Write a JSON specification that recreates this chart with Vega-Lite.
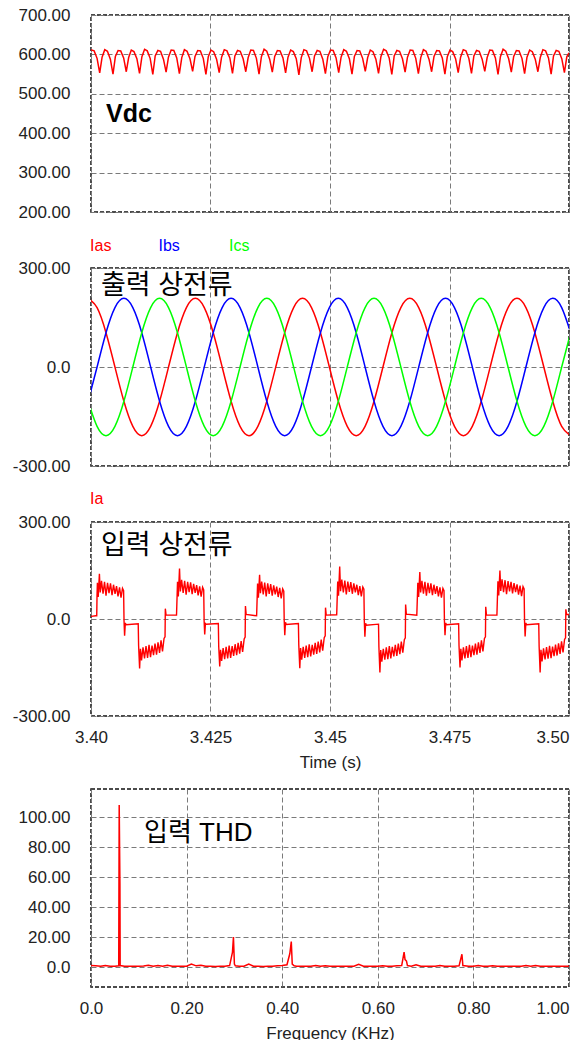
{
  "$schema": "https://vega.github.io/schema/vega-lite/v6.json",
  "padding": {"left": 11, "top": 5, "right": 0, "bottom": 0},
  "spacing": 17,
  "config": {
    "font": "Liberation Sans",
    "view": {"stroke": "#111111", "strokeDash": [4, 2], "strokeWidth": 1.5},
    "axis": {"labelFont": "Liberation Sans", "labelFontSize": 17, "labelColor": "#222222", "labelOverlap": false, "titleFont": "Liberation Sans", "titleFontSize": 17, "titleFontWeight": "normal", "titleColor": "#222222", "grid": true, "gridColor": "#7a7a7a", "gridDash": [5, 3], "gridWidth": 1, "gridOpacity": 1, "ticks": false, "tickSize": 0, "domain": false, "labelFlush": false},
    "axisY": {"labelPadding": 21},
    "axisX": {"labelPadding": 13, "titlePadding": 9}
  },
  "datasets": {
    "vdc": [
      {"t":3.4,"v":611},
      {"t":3.4001,"v":611},{"t":3.40066,"v":609},{"t":3.40127,"v":590},{"t":3.40182,"v":553},{"t":3.40232,"v":593},
      {"t":3.40288,"v":612},{"t":3.40344,"v":608},{"t":3.40405,"v":588},{"t":3.4046,"v":550},{"t":3.4051,"v":595},
      {"t":3.40566,"v":610},{"t":3.40622,"v":609},{"t":3.40683,"v":591},{"t":3.40738,"v":556},{"t":3.40788,"v":592},
      {"t":3.40843,"v":611},{"t":3.40899,"v":607},{"t":3.4096,"v":589},{"t":3.41015,"v":552},{"t":3.41065,"v":594},
      {"t":3.41121,"v":613},{"t":3.41177,"v":609},{"t":3.41238,"v":590},{"t":3.41293,"v":549},{"t":3.41343,"v":596},
      {"t":3.41399,"v":610},{"t":3.41455,"v":608},{"t":3.41516,"v":588},{"t":3.41571,"v":555},{"t":3.41621,"v":593},
      {"t":3.41677,"v":611},{"t":3.41733,"v":610},{"t":3.41794,"v":591},{"t":3.41849,"v":551},{"t":3.41899,"v":592},
      {"t":3.41954,"v":612},{"t":3.4201,"v":608},{"t":3.42071,"v":589},{"t":3.42126,"v":557},{"t":3.42176,"v":595},
      {"t":3.42232,"v":610},{"t":3.42288,"v":609},{"t":3.42349,"v":590},{"t":3.42404,"v":549},{"t":3.42454,"v":594},
      {"t":3.4251,"v":611},{"t":3.42566,"v":607},{"t":3.42627,"v":588},{"t":3.42682,"v":554},{"t":3.42732,"v":593},
      {"t":3.42788,"v":612},{"t":3.42844,"v":609},{"t":3.42905,"v":591},{"t":3.4296,"v":552},{"t":3.4301,"v":596},
      {"t":3.43066,"v":610},{"t":3.43122,"v":608},{"t":3.43183,"v":589},{"t":3.43238,"v":556},{"t":3.43288,"v":592},
      {"t":3.43343,"v":611},{"t":3.43399,"v":610},{"t":3.4346,"v":590},{"t":3.43515,"v":550},{"t":3.43565,"v":594},
      {"t":3.43621,"v":613},{"t":3.43677,"v":608},{"t":3.43738,"v":588},{"t":3.43793,"v":555},{"t":3.43843,"v":595},
      {"t":3.43899,"v":610},{"t":3.43955,"v":609},{"t":3.44016,"v":591},{"t":3.44071,"v":553},{"t":3.44121,"v":593},
      {"t":3.44177,"v":611},{"t":3.44233,"v":607},{"t":3.44294,"v":589},{"t":3.44349,"v":548},{"t":3.44399,"v":592},
      {"t":3.44454,"v":612},{"t":3.4451,"v":609},{"t":3.44571,"v":590},{"t":3.44626,"v":556},{"t":3.44676,"v":596},
      {"t":3.44732,"v":610},{"t":3.44788,"v":608},{"t":3.44849,"v":588},{"t":3.44904,"v":551},{"t":3.44954,"v":594},
      {"t":3.4501,"v":611},{"t":3.45066,"v":610},{"t":3.45127,"v":591},{"t":3.45182,"v":554},{"t":3.45232,"v":593},
      {"t":3.45288,"v":612},{"t":3.45344,"v":608},{"t":3.45405,"v":589},{"t":3.4546,"v":550},{"t":3.4551,"v":595},
      {"t":3.45566,"v":610},{"t":3.45622,"v":609},{"t":3.45683,"v":590},{"t":3.45738,"v":557},{"t":3.45788,"v":592},
      {"t":3.45843,"v":611},{"t":3.45899,"v":607},{"t":3.4596,"v":588},{"t":3.46015,"v":552},{"t":3.46065,"v":594},
      {"t":3.46121,"v":613},{"t":3.46177,"v":609},{"t":3.46238,"v":591},{"t":3.46293,"v":549},{"t":3.46343,"v":596},
      {"t":3.46399,"v":610},{"t":3.46455,"v":608},{"t":3.46516,"v":589},{"t":3.46571,"v":555},{"t":3.46621,"v":593},
      {"t":3.46677,"v":611},{"t":3.46733,"v":610},{"t":3.46794,"v":590},{"t":3.46849,"v":551},{"t":3.46899,"v":592},
      {"t":3.46954,"v":612},{"t":3.4701,"v":608},{"t":3.47071,"v":588},{"t":3.47126,"v":556},{"t":3.47176,"v":595},
      {"t":3.47232,"v":610},{"t":3.47288,"v":609},{"t":3.47349,"v":591},{"t":3.47404,"v":550},{"t":3.47454,"v":594},
      {"t":3.4751,"v":611},{"t":3.47566,"v":607},{"t":3.47627,"v":589},{"t":3.47682,"v":554},{"t":3.47732,"v":593},
      {"t":3.47788,"v":612},{"t":3.47844,"v":609},{"t":3.47905,"v":590},{"t":3.4796,"v":552},{"t":3.4801,"v":596},
      {"t":3.48066,"v":610},{"t":3.48122,"v":608},{"t":3.48183,"v":588},{"t":3.48238,"v":557},{"t":3.48288,"v":592},
      {"t":3.48343,"v":611},{"t":3.48399,"v":610},{"t":3.4846,"v":591},{"t":3.48515,"v":549},{"t":3.48565,"v":594},
      {"t":3.48621,"v":613},{"t":3.48677,"v":608},{"t":3.48738,"v":589},{"t":3.48793,"v":555},{"t":3.48843,"v":595},
      {"t":3.48899,"v":610},{"t":3.48955,"v":609},{"t":3.49016,"v":590},{"t":3.49071,"v":551},{"t":3.49121,"v":593},
      {"t":3.49177,"v":611},{"t":3.49233,"v":607},{"t":3.49294,"v":588},{"t":3.49349,"v":556},{"t":3.49399,"v":592},
      {"t":3.49454,"v":612},{"t":3.4951,"v":609},{"t":3.49571,"v":591},{"t":3.49626,"v":550},{"t":3.49676,"v":596},
      {"t":3.49732,"v":610},{"t":3.49788,"v":608},{"t":3.49849,"v":589},{"t":3.49904,"v":554},{"t":3.49954,"v":594},
      {"t":3.5,"v":604}
    ],
    "iout": [
      {"t":3.3994,"Ias":208,"Ibs":-104,"Ics":-104},
      {"t":3.40127,"Ias":180,"Ibs":0,"Ics":-180},
      {"t":3.40314,"Ias":104,"Ibs":104,"Ics":-208},
      {"t":3.40501,"Ias":0,"Ibs":180,"Ics":-180},
      {"t":3.40688,"Ias":-104,"Ibs":208,"Ics":-104},
      {"t":3.40875,"Ias":-180,"Ibs":180,"Ics":0},
      {"t":3.41062,"Ias":-208,"Ibs":104,"Ics":104},
      {"t":3.41248,"Ias":-180,"Ibs":0,"Ics":180},
      {"t":3.41435,"Ias":-104,"Ibs":-104,"Ics":208},
      {"t":3.41622,"Ias":0,"Ibs":-180,"Ics":180},
      {"t":3.41809,"Ias":104,"Ibs":-208,"Ics":104},
      {"t":3.41996,"Ias":180,"Ibs":-180,"Ics":0},
      {"t":3.42183,"Ias":208,"Ibs":-104,"Ics":-104},
      {"t":3.4237,"Ias":180,"Ibs":0,"Ics":-180},
      {"t":3.42557,"Ias":104,"Ibs":104,"Ics":-208},
      {"t":3.42744,"Ias":0,"Ibs":180,"Ics":-180},
      {"t":3.42931,"Ias":-104,"Ibs":208,"Ics":-104},
      {"t":3.43118,"Ias":-180,"Ibs":180,"Ics":0},
      {"t":3.43305,"Ias":-208,"Ibs":104,"Ics":104},
      {"t":3.43491,"Ias":-180,"Ibs":0,"Ics":180},
      {"t":3.43678,"Ias":-104,"Ibs":-104,"Ics":208},
      {"t":3.43865,"Ias":0,"Ibs":-180,"Ics":180},
      {"t":3.44052,"Ias":104,"Ibs":-208,"Ics":104},
      {"t":3.44239,"Ias":180,"Ibs":-180,"Ics":0},
      {"t":3.44426,"Ias":208,"Ibs":-104,"Ics":-104},
      {"t":3.44613,"Ias":180,"Ibs":0,"Ics":-180},
      {"t":3.448,"Ias":104,"Ibs":104,"Ics":-208},
      {"t":3.44987,"Ias":0,"Ibs":180,"Ics":-180},
      {"t":3.45174,"Ias":-104,"Ibs":208,"Ics":-104},
      {"t":3.45361,"Ias":-180,"Ibs":180,"Ics":0},
      {"t":3.45548,"Ias":-208,"Ibs":104,"Ics":104},
      {"t":3.45734,"Ias":-180,"Ibs":0,"Ics":180},
      {"t":3.45921,"Ias":-104,"Ibs":-104,"Ics":208},
      {"t":3.46108,"Ias":0,"Ibs":-180,"Ics":180},
      {"t":3.46295,"Ias":104,"Ibs":-208,"Ics":104},
      {"t":3.46482,"Ias":180,"Ibs":-180,"Ics":0},
      {"t":3.46669,"Ias":208,"Ibs":-104,"Ics":-104},
      {"t":3.46856,"Ias":180,"Ibs":0,"Ics":-180},
      {"t":3.47043,"Ias":104,"Ibs":104,"Ics":-208},
      {"t":3.4723,"Ias":0,"Ibs":180,"Ics":-180},
      {"t":3.47417,"Ias":-104,"Ibs":208,"Ics":-104},
      {"t":3.47604,"Ias":-180,"Ibs":180,"Ics":0},
      {"t":3.47791,"Ias":-208,"Ibs":104,"Ics":104},
      {"t":3.47977,"Ias":-180,"Ibs":0,"Ics":180},
      {"t":3.48164,"Ias":-104,"Ibs":-104,"Ics":208},
      {"t":3.48351,"Ias":0,"Ibs":-180,"Ics":180},
      {"t":3.48538,"Ias":104,"Ibs":-208,"Ics":104},
      {"t":3.48725,"Ias":180,"Ibs":-180,"Ics":0},
      {"t":3.48912,"Ias":208,"Ibs":-104,"Ics":-104},
      {"t":3.49099,"Ias":180,"Ibs":0,"Ics":-180},
      {"t":3.49286,"Ias":104,"Ibs":104,"Ics":-208},
      {"t":3.49473,"Ias":0,"Ibs":180,"Ics":-180},
      {"t":3.4966,"Ias":-104,"Ibs":208,"Ics":-104},
      {"t":3.49847,"Ias":-180,"Ibs":180,"Ics":0},
      {"t":3.50034,"Ias":-208,"Ibs":104,"Ics":104}
    ],
    "iin": [
      {"t":3.4,"v":8},{"t":3.401,"v":10},{"t":3.4012,"v":10},
      {"t":3.40126,"v":72},{"t":3.40134,"v":112},{"t":3.40151,"v":68},{"t":3.40176,"v":140},{"t":3.40193,"v":82},{"t":3.4022,"v":118},{"t":3.40252,"v":78},{"t":3.40283,"v":115},{"t":3.40314,"v":72},{"t":3.40346,"v":112},{"t":3.40377,"v":80},{"t":3.40408,"v":110},{"t":3.4044,"v":74},{"t":3.40471,"v":106},{"t":3.40503,"v":78},{"t":3.40534,"v":102},{"t":3.40565,"v":70},{"t":3.40597,"v":98},{"t":3.40628,"v":66},{"t":3.40659,"v":95},{"t":3.40682,"v":88},{"t":3.40691,"v":-5},{"t":3.40703,"v":-52},{"t":3.40718,"v":-12},{"t":3.40733,"v":-18},{"t":3.40988,"v":-15},{"t":3.40996,"v":-82},{"t":3.41017,"v":-153},{"t":3.41034,"v":-92},{"t":3.41057,"v":-128},{"t":3.41088,"v":-88},{"t":3.4112,"v":-122},{"t":3.41151,"v":-84},{"t":3.41183,"v":-120},{"t":3.41214,"v":-80},{"t":3.41245,"v":-118},{"t":3.41277,"v":-82},{"t":3.41308,"v":-112},{"t":3.41339,"v":-76},{"t":3.41371,"v":-110},{"t":3.41402,"v":-72},{"t":3.41434,"v":-105},{"t":3.41465,"v":-66},{"t":3.41496,"v":-100},{"t":3.41528,"v":-60},{"t":3.41549,"v":-55},{"t":3.41555,"v":32},{"t":3.4157,"v":12},{"t":3.41789,"v":12},
      {"t":3.41802,"v":75},{"t":3.4181,"v":115},{"t":3.41827,"v":70},{"t":3.41852,"v":156},{"t":3.41869,"v":85},{"t":3.41896,"v":121},{"t":3.41928,"v":81},{"t":3.41959,"v":118},{"t":3.4199,"v":75},{"t":3.42022,"v":115},{"t":3.42053,"v":83},{"t":3.42084,"v":113},{"t":3.42116,"v":77},{"t":3.42147,"v":109},{"t":3.42179,"v":81},{"t":3.4221,"v":105},{"t":3.42241,"v":73},{"t":3.42273,"v":101},{"t":3.42304,"v":69},{"t":3.42335,"v":98},{"t":3.42358,"v":90},{"t":3.42367,"v":-8},{"t":3.42379,"v":-48},{"t":3.42394,"v":-14},{"t":3.42409,"v":-16},{"t":3.42664,"v":-14},{"t":3.42672,"v":-85},{"t":3.42693,"v":-147},{"t":3.4271,"v":-95},{"t":3.42733,"v":-130},{"t":3.42764,"v":-90},{"t":3.42796,"v":-124},{"t":3.42827,"v":-86},{"t":3.42859,"v":-122},{"t":3.4289,"v":-82},{"t":3.42921,"v":-120},{"t":3.42953,"v":-84},{"t":3.42984,"v":-114},{"t":3.43015,"v":-78},{"t":3.43047,"v":-112},{"t":3.43078,"v":-74},{"t":3.4311,"v":-107},{"t":3.43141,"v":-68},{"t":3.43172,"v":-102},{"t":3.43204,"v":-62},{"t":3.43225,"v":-56},{"t":3.43231,"v":40},{"t":3.43246,"v":14},{"t":3.43465,"v":10},
      {"t":3.43477,"v":70},{"t":3.43485,"v":110},{"t":3.43502,"v":66},{"t":3.43527,"v":137},{"t":3.43544,"v":80},{"t":3.43571,"v":116},{"t":3.43603,"v":76},{"t":3.43634,"v":113},{"t":3.43665,"v":70},{"t":3.43697,"v":110},{"t":3.43728,"v":78},{"t":3.43759,"v":108},{"t":3.43791,"v":72},{"t":3.43822,"v":104},{"t":3.43854,"v":76},{"t":3.43885,"v":100},{"t":3.43916,"v":68},{"t":3.43948,"v":96},{"t":3.43979,"v":64},{"t":3.4401,"v":93},{"t":3.44033,"v":86},{"t":3.44042,"v":-4},{"t":3.44054,"v":-50},{"t":3.44069,"v":-10},{"t":3.44084,"v":-17},{"t":3.44339,"v":-14},{"t":3.44347,"v":-80},{"t":3.44368,"v":-152},{"t":3.44385,"v":-90},{"t":3.44408,"v":-126},{"t":3.44439,"v":-86},{"t":3.44471,"v":-120},{"t":3.44502,"v":-82},{"t":3.44534,"v":-118},{"t":3.44565,"v":-78},{"t":3.44596,"v":-116},{"t":3.44628,"v":-80},{"t":3.44659,"v":-110},{"t":3.4469,"v":-74},{"t":3.44722,"v":-108},{"t":3.44753,"v":-70},{"t":3.44785,"v":-103},{"t":3.44816,"v":-64},{"t":3.44847,"v":-98},{"t":3.44879,"v":-58},{"t":3.449,"v":-52},{"t":3.44906,"v":35},{"t":3.44921,"v":12},{"t":3.4514,"v":13},
      {"t":3.45153,"v":76},{"t":3.45161,"v":116},{"t":3.45178,"v":72},{"t":3.45203,"v":162},{"t":3.4522,"v":86},{"t":3.45247,"v":122},{"t":3.45279,"v":82},{"t":3.4531,"v":119},{"t":3.45341,"v":76},{"t":3.45373,"v":116},{"t":3.45404,"v":84},{"t":3.45435,"v":114},{"t":3.45467,"v":78},{"t":3.45498,"v":110},{"t":3.4553,"v":82},{"t":3.45561,"v":106},{"t":3.45592,"v":74},{"t":3.45624,"v":102},{"t":3.45655,"v":70},{"t":3.45686,"v":99},{"t":3.45709,"v":92},{"t":3.45718,"v":-6},{"t":3.4573,"v":-55},{"t":3.45745,"v":-13},{"t":3.4576,"v":-19},{"t":3.46015,"v":-16},{"t":3.46023,"v":-86},{"t":3.46044,"v":-165},{"t":3.46061,"v":-96},{"t":3.46084,"v":-132},{"t":3.46115,"v":-92},{"t":3.46147,"v":-126},{"t":3.46178,"v":-88},{"t":3.4621,"v":-124},{"t":3.46241,"v":-84},{"t":3.46272,"v":-122},{"t":3.46304,"v":-86},{"t":3.46335,"v":-116},{"t":3.46366,"v":-80},{"t":3.46398,"v":-114},{"t":3.46429,"v":-76},{"t":3.46461,"v":-109},{"t":3.46492,"v":-70},{"t":3.46523,"v":-104},{"t":3.46555,"v":-64},{"t":3.46576,"v":-58},{"t":3.46582,"v":45},{"t":3.46597,"v":15},{"t":3.46816,"v":12},
      {"t":3.46829,"v":72},{"t":3.46837,"v":112},{"t":3.46854,"v":68},{"t":3.46879,"v":145},{"t":3.46896,"v":82},{"t":3.46923,"v":118},{"t":3.46955,"v":78},{"t":3.46986,"v":115},{"t":3.47017,"v":72},{"t":3.47049,"v":112},{"t":3.4708,"v":80},{"t":3.47111,"v":110},{"t":3.47143,"v":74},{"t":3.47174,"v":106},{"t":3.47206,"v":78},{"t":3.47237,"v":102},{"t":3.47268,"v":70},{"t":3.473,"v":98},{"t":3.47331,"v":66},{"t":3.47362,"v":95},{"t":3.47385,"v":88},{"t":3.47394,"v":-5},{"t":3.47406,"v":-50},{"t":3.47421,"v":-12},{"t":3.47436,"v":-18},{"t":3.47691,"v":-15},{"t":3.47699,"v":-82},{"t":3.4772,"v":-150},{"t":3.47737,"v":-92},{"t":3.4776,"v":-128},{"t":3.47791,"v":-88},{"t":3.47823,"v":-122},{"t":3.47854,"v":-84},{"t":3.47886,"v":-120},{"t":3.47917,"v":-80},{"t":3.47948,"v":-118},{"t":3.4798,"v":-82},{"t":3.48011,"v":-112},{"t":3.48042,"v":-76},{"t":3.48074,"v":-110},{"t":3.48105,"v":-72},{"t":3.48137,"v":-105},{"t":3.48168,"v":-66},{"t":3.48199,"v":-100},{"t":3.48231,"v":-60},{"t":3.48252,"v":-55},{"t":3.48258,"v":38},{"t":3.48273,"v":12},{"t":3.48492,"v":12},
      {"t":3.48505,"v":77},{"t":3.48513,"v":117},{"t":3.4853,"v":73},{"t":3.48555,"v":150},{"t":3.48572,"v":87},{"t":3.48599,"v":123},{"t":3.48631,"v":83},{"t":3.48662,"v":120},{"t":3.48693,"v":77},{"t":3.48725,"v":117},{"t":3.48756,"v":85},{"t":3.48787,"v":115},{"t":3.48819,"v":79},{"t":3.4885,"v":111},{"t":3.48882,"v":83},{"t":3.48913,"v":107},{"t":3.48944,"v":75},{"t":3.48976,"v":103},{"t":3.49007,"v":71},{"t":3.49038,"v":100},{"t":3.49061,"v":93},{"t":3.4907,"v":-6},{"t":3.49082,"v":-54},{"t":3.49097,"v":-12},{"t":3.49112,"v":-18},{"t":3.49367,"v":-15},{"t":3.49375,"v":-84},{"t":3.49396,"v":-165},{"t":3.49413,"v":-95},{"t":3.49436,"v":-131},{"t":3.49467,"v":-91},{"t":3.49499,"v":-125},{"t":3.4953,"v":-87},{"t":3.49562,"v":-123},{"t":3.49593,"v":-83},{"t":3.49624,"v":-121},{"t":3.49656,"v":-85},{"t":3.49687,"v":-115},{"t":3.49718,"v":-79},{"t":3.4975,"v":-113},{"t":3.49781,"v":-75},{"t":3.49813,"v":-108},{"t":3.49844,"v":-69},{"t":3.49875,"v":-103},{"t":3.49907,"v":-63},{"t":3.49928,"v":-58},{"t":3.49934,"v":30},{"t":3.49949,"v":14},{"t":3.5,"v":14}
    ],
    "thd": [
      {"f":0.0,"v":1.0},{"f":0.01,"v":0.8},{"f":0.02,"v":0.6},{"f":0.03,"v":1.0},{"f":0.04,"v":0.5},{"f":0.05,"v":0.6},{"f":0.058,"v":0.8},{"f":0.059,"v":108},{"f":0.0605,"v":55},{"f":0.061,"v":1.0},
      {"f":0.07,"v":0.6},{"f":0.08,"v":0.5},{"f":0.09,"v":0.6},{"f":0.1,"v":0.5},{"f":0.11,"v":0.7},{"f":0.12,"v":1.2},{"f":0.13,"v":0.6},{"f":0.14,"v":1.0},{"f":0.15,"v":0.5},{"f":0.16,"v":1.2},
      {"f":0.17,"v":0.5},{"f":0.18,"v":0.6},{"f":0.19,"v":0.5},{"f":0.2,"v":0.6},{"f":0.21,"v":2.0},{"f":0.22,"v":0.8},{"f":0.23,"v":1.2},{"f":0.24,"v":0.5},{"f":0.25,"v":0.6},{"f":0.26,"v":0.4},
      {"f":0.27,"v":0.5},{"f":0.28,"v":0.6},{"f":0.29,"v":1.0},{"f":0.296,"v":10},{"f":0.298,"v":20},{"f":0.3,"v":2},{"f":0.302,"v":0.8},{"f":0.31,"v":0.6},{"f":0.32,"v":0.5},{"f":0.33,"v":2.0},
      {"f":0.34,"v":0.6},{"f":0.35,"v":0.5},{"f":0.36,"v":0.4},{"f":0.37,"v":0.6},{"f":0.38,"v":0.5},{"f":0.39,"v":0.8},{"f":0.4,"v":1.0},{"f":0.41,"v":1.5},{"f":0.416,"v":9},{"f":0.419,"v":17},
      {"f":0.421,"v":2},{"f":0.425,"v":0.8},{"f":0.43,"v":0.6},{"f":0.44,"v":0.5},{"f":0.45,"v":0.6},{"f":0.46,"v":0.5},{"f":0.47,"v":1.0},{"f":0.48,"v":0.6},{"f":0.49,"v":0.8},{"f":0.5,"v":0.5},
      {"f":0.51,"v":0.6},{"f":0.52,"v":0.5},{"f":0.53,"v":0.6},{"f":0.54,"v":0.5},{"f":0.55,"v":0.6},{"f":0.56,"v":1.8},{"f":0.57,"v":0.5},{"f":0.58,"v":0.6},{"f":0.59,"v":0.5},{"f":0.6,"v":0.6},
      {"f":0.61,"v":0.8},{"f":0.62,"v":0.5},{"f":0.63,"v":0.6},{"f":0.64,"v":0.8},{"f":0.65,"v":1.0},{"f":0.655,"v":10},{"f":0.657,"v":5},{"f":0.66,"v":4},{"f":0.662,"v":1.0},{"f":0.67,"v":0.6},
      {"f":0.68,"v":1.5},{"f":0.69,"v":0.5},{"f":0.7,"v":0.6},{"f":0.71,"v":0.5},{"f":0.72,"v":0.6},{"f":0.73,"v":1.0},{"f":0.74,"v":0.5},{"f":0.75,"v":0.6},{"f":0.76,"v":0.5},{"f":0.77,"v":0.8},
      {"f":0.776,"v":8.5},{"f":0.778,"v":1.0},{"f":0.79,"v":0.6},{"f":0.8,"v":0.5},{"f":0.81,"v":1.0},{"f":0.82,"v":0.5},{"f":0.83,"v":0.6},{"f":0.84,"v":0.8},{"f":0.85,"v":0.5},{"f":0.86,"v":0.6},
      {"f":0.87,"v":0.5},{"f":0.88,"v":0.6},{"f":0.89,"v":0.5},{"f":0.9,"v":0.6},{"f":0.91,"v":1.0},{"f":0.92,"v":0.5},{"f":0.93,"v":1.0},{"f":0.94,"v":0.5},{"f":0.95,"v":0.6},{"f":0.96,"v":0.5},
      {"f":0.97,"v":0.6},{"f":0.98,"v":0.5},{"f":0.99,"v":0.6},{"f":1.0,"v":0.5}
    ]
  },
  "vconcat": [
    {
      "bounds": "flush",
      "spacing": 56,
      "vconcat": [
        {
          "width": 478, "height": 197,
          "layer": [
            {
              "data": {"name": "vdc"},
              "mark": {"type": "line", "color": "#ff0000", "strokeWidth": 1.5, "clip": true},
              "encoding": {
                "x": {"field": "t", "type": "quantitative", "scale": {"domain": [3.4, 3.5], "nice": false, "zero": false}, "axis": {"values": [3.4, 3.425, 3.45, 3.475, 3.5], "tickCount": 20, "labels": false, "title": null}},
                "y": {"field": "v", "type": "quantitative", "scale": {"domain": [200, 700], "nice": false, "zero": false}, "axis": {"values": [200, 300, 400, 500, 600, 700], "tickCount": 20, "format": ".2f", "title": null}}
              }
            },
            {
              "data": {"values": [{}]},
              "mark": {"type": "text", "text": "Vdc", "font": "Liberation Sans", "fontSize": 25, "fontWeight": "bold", "align": "left", "baseline": "middle", "color": "#000000"},
              "encoding": {"x": {"datum": 3.40314}, "y": {"datum": 449}}
            }
          ]
        },
        {
          "width": 478, "height": 198,
          "layer": [
            {
              "data": {"name": "iout"},
              "transform": [{"fold": ["Ias", "Ibs", "Ics"], "as": ["s", "v"]}],
              "mark": {"type": "line", "strokeWidth": 1.5, "clip": true, "interpolate": "natural"},
              "encoding": {
                "x": {"field": "t", "type": "quantitative", "scale": {"domain": [3.4, 3.5], "nice": false, "zero": false}, "axis": {"values": [3.4, 3.425, 3.45, 3.475, 3.5], "tickCount": 20, "labels": false, "title": null}},
                "y": {"field": "v", "type": "quantitative", "scale": {"domain": [-300, 300], "nice": false, "zero": false}, "axis": {"values": [-300, 0, 300], "tickCount": 20, "labelExpr": "datum.value == 0 ? '0.0' : (datum.value < 0 ? '-' : '') + format(abs(datum.value), '.2f')", "title": null}},
                "color": {"field": "s", "type": "nominal", "scale": {"domain": ["Ias", "Ibs", "Ics"], "range": ["#ff0000", "#0000ff", "#00ff00"]}, "legend": null}
              }
            },
            {
              "data": {"values": [{}]},
              "mark": {"type": "text", "text": "Ias", "font": "Liberation Sans", "fontSize": 16, "align": "left", "baseline": "middle", "color": "#ff0000"},
              "encoding": {"x": {"datum": 3.3998}, "y": {"datum": 367}}
            },
            {
              "data": {"values": [{}]},
              "mark": {"type": "text", "text": "Ibs", "font": "Liberation Sans", "fontSize": 16, "align": "left", "baseline": "middle", "color": "#0000ff"},
              "encoding": {"x": {"datum": 3.41412}, "y": {"datum": 367}}
            },
            {
              "data": {"values": [{}]},
              "mark": {"type": "text", "text": "Ics", "font": "Liberation Sans", "fontSize": 16, "align": "left", "baseline": "middle", "color": "#00ff00"},
              "encoding": {"x": {"datum": 3.42887}, "y": {"datum": 367}}
            },
            {
              "data": {"values": [{}]},
              "mark": {"type": "text", "text": "출력 상전류", "font": "Liberation Sans, Noto Sans CJK KR", "fontSize": 27, "align": "left", "baseline": "middle", "color": "#000000"},
              "encoding": {"x": {"datum": 3.40209}, "y": {"datum": 246}}
            }
          ]
        },
        {
          "width": 478, "height": 194,
          "layer": [
            {
              "data": {"name": "iin"},
              "mark": {"type": "line", "color": "#ff0000", "strokeWidth": 1.4, "clip": true},
              "encoding": {
                "x": {"field": "t", "type": "quantitative", "scale": {"domain": [3.4, 3.5], "nice": false, "zero": false}, "axis": {"values": [3.4, 3.425, 3.45, 3.475, 3.5], "tickCount": 20, "title": "Time (s)", "labelExpr": "(round(datum.value*1000) % 10 == 0) ? format(datum.value, '.2f') : format(datum.value, '.3f')", "labelAlign": {"condition": {"test": "datum.value >= 3.499", "value": "right"}, "value": "center"}}},
                "y": {"field": "v", "type": "quantitative", "scale": {"domain": [-300, 300], "nice": false, "zero": false}, "axis": {"values": [-300, 0, 300], "tickCount": 20, "labelExpr": "datum.value == 0 ? '0.0' : (datum.value < 0 ? '-' : '') + format(abs(datum.value), '.2f')", "title": null}}
              }
            },
            {
              "data": {"values": [{}]},
              "mark": {"type": "text", "text": "Ia", "font": "Liberation Sans", "fontSize": 16, "align": "left", "baseline": "middle", "color": "#ff0000"},
              "encoding": {"x": {"datum": 3.3998}, "y": {"datum": 372}}
            },
            {
              "data": {"values": [{}]},
              "mark": {"type": "text", "text": "입력 상전류", "font": "Liberation Sans, Noto Sans CJK KR", "fontSize": 27, "align": "left", "baseline": "middle", "color": "#000000"},
              "encoding": {"x": {"datum": 3.40209}, "y": {"datum": 227}}
            }
          ]
        }
      ]
    },
    {
      "width": 478, "height": 198,
      "layer": [
        {
          "data": {"name": "thd"},
          "mark": {"type": "line", "color": "#ff0000", "strokeWidth": 1.5, "clip": true},
          "encoding": {
            "x": {"field": "f", "type": "quantitative", "scale": {"domain": [0, 1], "nice": false, "zero": false}, "axis": {"values": [0, 0.2, 0.4, 0.6, 0.8, 1.0], "tickCount": 20, "title": "Frequency (KHz)", "labelExpr": "datum.value == 0 ? '0.0' : format(datum.value, '.2f')", "labelAlign": {"condition": {"test": "datum.value >= 0.999", "value": "right"}, "value": "center"}}},
            "y": {"field": "v", "type": "quantitative", "scale": {"domain": [-13.3, 118.7], "nice": false, "zero": false}, "axis": {"values": [0, 20, 40, 60, 80, 100], "tickCount": 20, "labelExpr": "datum.value == 0 ? '0.0' : format(datum.value, '.2f')", "title": null}}
          }
        },
        {
          "data": {"values": [{}]},
          "mark": {"type": "text", "text": "입력 THD", "font": "Liberation Sans, Noto Sans CJK KR", "fontSize": 26, "align": "left", "baseline": "middle", "color": "#000000"},
          "encoding": {"x": {"datum": 0.111}, "y": {"datum": 89.3}}
        }
      ]
    }
  ]
}
